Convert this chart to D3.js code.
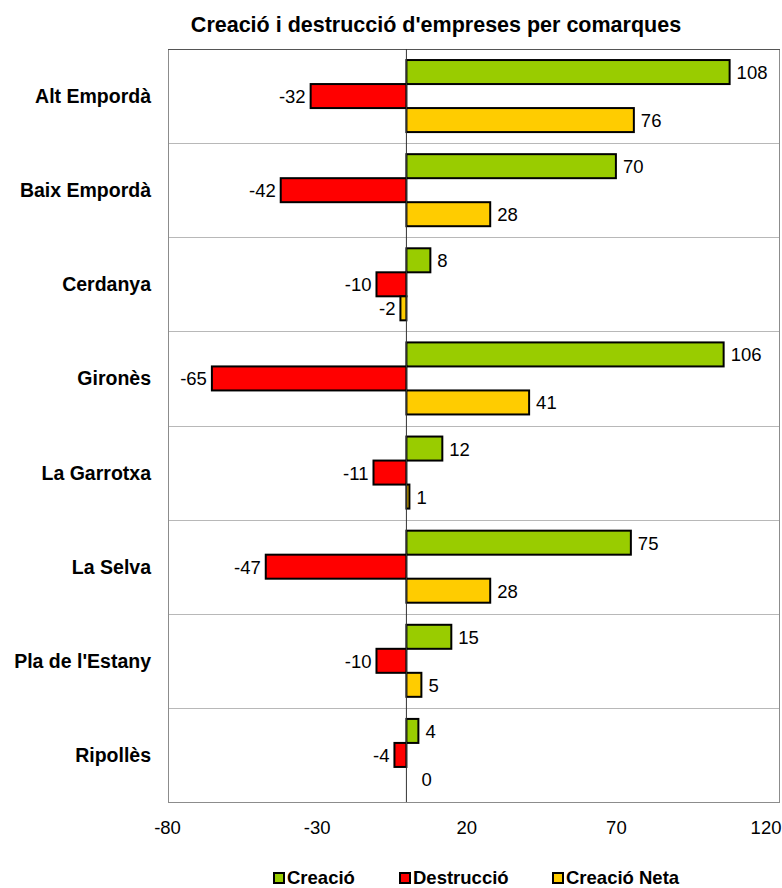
<!DOCTYPE html>
<html><head><meta charset="utf-8">
<script src="https://cdn.jsdelivr.net/npm/d3@7"></script>
<style>body{margin:0;background:#fff;font-family:"Liberation Sans",Arial,sans-serif;}</style>
</head><body><svg id="c" width="782" height="888"></svg>
<script>
const categories = ["Alt Empordà","Baix Empordà","Cerdanya","Gironès","La Garrotxa","La Selva","Pla de l'Estany","Ripollès"];
const creacio = [108,70,8,106,12,75,15,4];
const destruccio = [-32,-42,-10,-65,-11,-47,-10,-4];
const creacioNeta = [76,28,-2,41,1,28,5,0];
const seriesNames = ["Creació","Destrucció","Creació Neta"];
const seriesColors = ["#99CC00","#FF0000","#FFCC00"];
const tickValues = [-80,-30,20,70,120];

const svg = d3.select("#c");
const L=168, R=780, T=49, B=802;
const x = d3.scaleLinear().domain([-80,125]).range([167,R+0.5]);
const y = d3.scaleBand().domain(categories).range([T,B]);
const sub = d3.scaleBand().domain(seriesNames).range([0,y.bandwidth()]).paddingOuter(0.46).paddingInner(0);

svg.append("text").attr("x",436).attr("y",32).attr("text-anchor","middle")
  .attr("font-weight","bold").attr("font-size",21.5).text("Creació i destrucció d'empreses per comarques");

// separators
categories.slice(1).forEach(c=>{
  svg.append("line").attr("x1",L).attr("x2",R).attr("y1",Math.round(y(c))+0.5).attr("y2",Math.round(y(c))+0.5)
    .attr("stroke","#b8b8b8").attr("stroke-width",1);
});
svg.append("rect").attr("x",L+0.5).attr("y",T+0.5).attr("width",R-L-1).attr("height",B-T)
  .attr("fill","none").attr("stroke","#8c8c8c").attr("stroke-width",1);
svg.append("line").attr("x1",L).attr("x2",R).attr("y1",T+0.5).attr("y2",T+0.5)
  .attr("stroke","#555").attr("stroke-width",1);

const data = [creacio,destruccio,creacioNeta];
data.forEach((arr,si)=>{
  const g = svg.append("g");
  categories.forEach((c,i)=>{
    const v = arr[i];
    const y0 = y(c)+sub(seriesNames[si]);
    if(v!==0){
      g.append("rect").attr("x",Math.min(x(0),x(v))).attr("y",y0)
        .attr("width",Math.abs(x(v)-x(0))).attr("height",sub.bandwidth())
        .attr("fill",seriesColors[si]).attr("stroke","#000").attr("stroke-width",2);
    }
    const tx = v<0 ? x(v)-5 : x(v)+(v===0?15:7);
    svg.append("text").attr("x",tx).attr("y",y0+sub.bandwidth()/2+7)
      .attr("text-anchor",v<0?"end":"start").attr("font-size",18.5).text(String(v));
  });
});

// zero line
svg.append("line").attr("x1",x(0)).attr("x2",x(0)).attr("y1",T).attr("y2",B)
  .attr("stroke","#333").attr("stroke-width",1);

// category labels
categories.forEach(c=>{
  svg.append("text").attr("x",151).attr("y",y(c)+y.bandwidth()/2+7).attr("text-anchor","end")
    .attr("font-weight","bold").attr("font-size",19.5).text(c);
});

// x axis tick labels
const xa = svg.append("g").attr("transform",`translate(0,${B})`)
  .call(d3.axisBottom(x).tickValues(tickValues).tickFormat(d=>String(d)).tickSize(0).tickPadding(19));
xa.select(".domain").remove();
xa.selectAll("text").attr("font-size",18.5).attr("font-family","Liberation Sans, Arial, sans-serif").attr("fill","#000");

// legend
const legX=[273,399,552];
seriesNames.forEach((n,i)=>{
  svg.append("rect").attr("x",legX[i]+1).attr("y",873).attr("width",10).attr("height",10)
    .attr("fill",seriesColors[i]).attr("stroke","#000").attr("stroke-width",2);
  svg.append("text").attr("x",legX[i]+14).attr("y",883.5).attr("font-weight","bold")
    .attr("font-size",18.5).text(n);
});
</script></body></html>
